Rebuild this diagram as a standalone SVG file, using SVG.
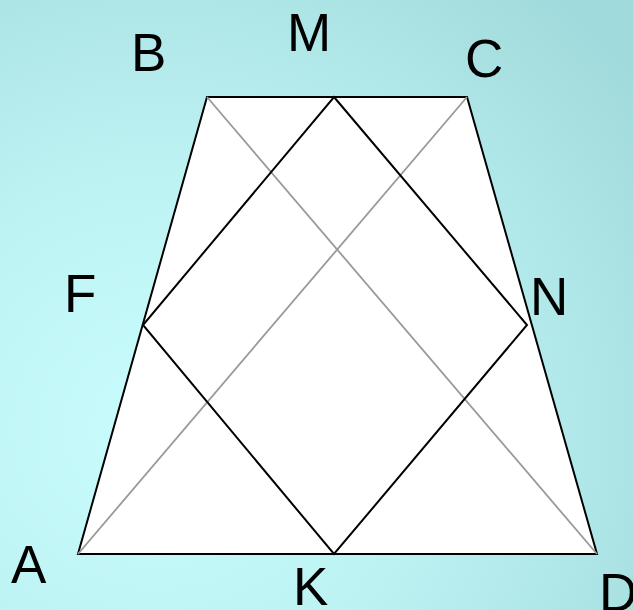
<svg xmlns="http://www.w3.org/2000/svg" width="633" height="610" viewBox="0 0 633 610">
<defs>
<radialGradient id="bg" cx="0.25" cy="0.7" r="0.95" gradientUnits="objectBoundingBox">
<stop offset="0" stop-color="#c9fdfd"/>
<stop offset="0.45" stop-color="#bdf2f3"/>
<stop offset="1" stop-color="#a1dadc"/>
</radialGradient>
<style>
.lbl{font-family:"Liberation Sans",Arial,sans-serif;font-size:53px;fill:#000}
.edge{stroke:#000;stroke-width:2;fill:none;stroke-linejoin:miter}
.diag{stroke:#999;stroke-width:1.8;fill:none}
</style>
</defs>
<rect x="0" y="0" width="633" height="610" fill="url(#bg)"/>
<g id="trapezoid">
<polygon points="207,97 467,97 597,554 78,554" fill="#fff" stroke="#000" stroke-width="2"/>
</g>
<g id="connectors">
<line class="diag" x1="207" y1="97" x2="597" y2="554"/>
<line class="diag" x1="467" y1="97" x2="78" y2="554"/>
<polygon class="edge" points="334,97 527,325 334,554 143,325"/>
</g>
<g id="labels">
<g id="B"><text class="lbl" x="131" y="71">B</text></g>
<g id="M"><text class="lbl" x="287" y="51">M</text></g>
<g id="C"><text class="lbl" x="465" y="77">C</text></g>
<g id="F"><text class="lbl" x="64" y="312">F</text></g>
<g id="N"><text class="lbl" x="530" y="315">N</text></g>
<g id="A"><text class="lbl" x="11" y="583">A</text></g>
<g id="K"><text class="lbl" x="293" y="605">K</text></g>
<g id="D"><text class="lbl" x="599" y="611">D</text></g>
</g>
</svg>
